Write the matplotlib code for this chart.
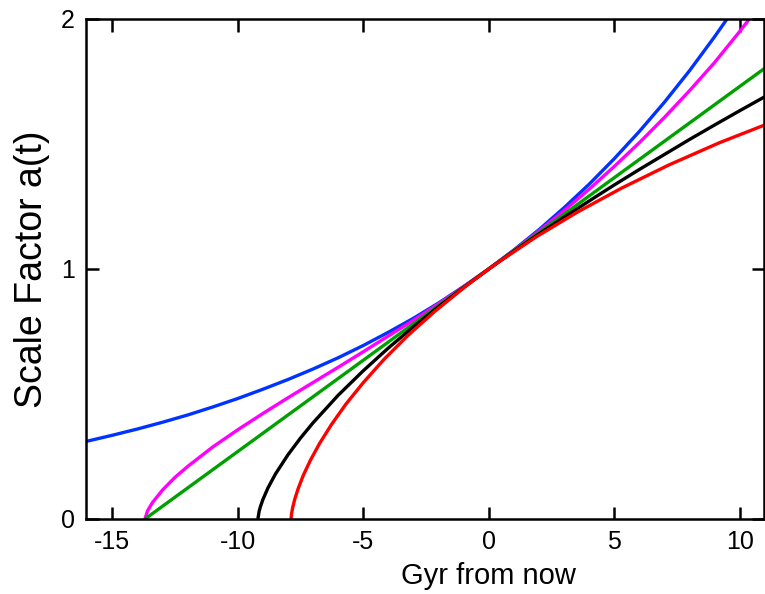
import matplotlib
matplotlib.use("Agg")
import matplotlib.pyplot as plt

plt.rcParams['font.family'] = ['Liberation Sans', 'DejaVu Sans']
plt.rcParams['axes.unicode_minus'] = False

# Gyr from now / scale factor
blue_t = [-16.1, -15, -14, -13, -12, -11, -10, -9, -8, -7, -6, -5, -4, -3, -2, -1, 0, 1, 2, 3, 4, 5, 6, 7, 8, 9, 9.6]
blue_a = [0.309, 0.335, 0.360, 0.387, 0.416, 0.448, 0.482, 0.519, 0.558, 0.600, 0.645, 0.694, 0.747, 0.803, 0.864, 0.930, 1.0, 1.076, 1.157, 1.245, 1.339, 1.441, 1.550, 1.667, 1.793, 1.929, 2.015]

magenta_t = [-13.7, -13.6, -13.4, -13.0, -12.5, -12, -11, -10, -9, -8, -7, -6, -5, -4, -3, -2, -1, 0, 1, 2, 3, 4, 5, 6, 7, 8, 9, 10, 10.5]
magenta_a = [0.0, 0.032, 0.066, 0.116, 0.167, 0.210, 0.288, 0.357, 0.422, 0.485, 0.546, 0.607, 0.669, 0.732, 0.795, 0.861, 0.929, 1.0, 1.074, 1.152, 1.233, 1.319, 1.410, 1.505, 1.606, 1.713, 1.826, 1.950, 2.015]

green_t = [-13.7, 0, 11.0]
green_a = [0.0, 1.0, 1.803]

black_t = [-9.2, -9.15, -9.1, -9.0, -8.8, -8.5, -8.0, -7.5, -7, -6, -5, -4, -3, -2, -1, 0, 1, 2, 3, 4, 5, 6, 7, 8, 9, 10, 11]
black_a = [0.0, 0.031, 0.049, 0.078, 0.124, 0.180, 0.257, 0.324, 0.385, 0.495, 0.593, 0.684, 0.769, 0.849, 0.926, 1.0, 1.071, 1.140, 1.207, 1.272, 1.336, 1.398, 1.458, 1.518, 1.576, 1.633, 1.689]

red_t = [-7.877, -7.875, -7.859, -7.815, -7.731, -7.593, -7.389, -7.107, -6.737, -6.267, -5.689, -4.996, -4.179, -3.234, -2.156, -0.942, 0, 0.409, 1.898, 3.524, 5.284, 7.175, 9.191, 11.326]
red_a = [0.0, 0.005, 0.020, 0.045, 0.079, 0.122, 0.175, 0.235, 0.303, 0.378, 0.460, 0.546, 0.638, 0.733, 0.830, 0.929, 1.0, 1.029, 1.129, 1.227, 1.323, 1.416, 1.505, 1.589]

x_ticks = [-15, -10, -5, 0, 5, 10]
y_ticks = [0, 1, 2]

xmin, xmax = -16.05, 10.95

fig = plt.figure(figsize=(7.65, 5.94), dpi=100)
ax = fig.add_axes([86/765, 1-519/594, (763.5-86)/765, 500/594])

lw = 2.4
ax.plot(blue_t, blue_a, color='#0033ff', lw=lw, solid_capstyle='butt')
ax.plot(magenta_t, magenta_a, color='#ff00ff', lw=lw, solid_capstyle='butt')
ax.plot(green_t, green_a, color='#00a000', lw=lw, solid_capstyle='butt')
ax.plot(black_t, black_a, color='black', lw=lw, solid_capstyle='butt')
ax.plot(red_t, red_a, color='#ff0000', lw=lw, solid_capstyle='butt')

ax.set_xlim(xmin, xmax)
ax.set_ylim(0, 2)
ax.set_xticks(x_ticks)
ax.set_yticks(y_ticks)
ax.tick_params(direction='in', length=9, width=1.8, labelsize=18, top=True, right=True, pad=8)
for s in ax.spines.values():
    s.set_linewidth(1.8)

ax.set_xlabel('Gyr from now', fontsize=21, labelpad=6)
ax.xaxis.set_label_coords((0 - xmin) / (xmax - xmin), -0.085)
ax.set_ylabel('Scale Factor a(t)', fontsize=27, labelpad=8)

fig.savefig('out.png', dpi=100)
